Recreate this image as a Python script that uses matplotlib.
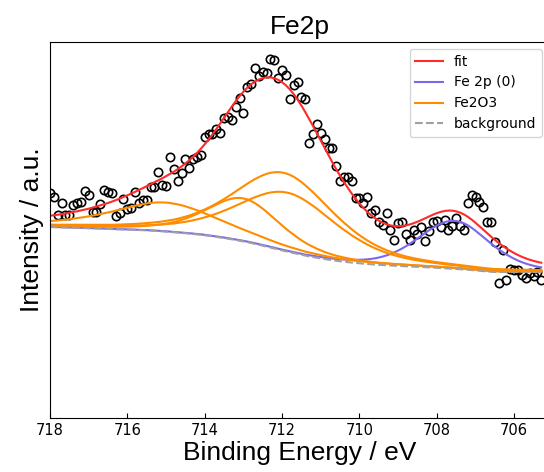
import numpy as np
import matplotlib
matplotlib.use("Agg")
import matplotlib.pyplot as plt

# measured spectrum, 0.1 eV steps from 718.0 down to 705.3 eV
energy = np.round(np.arange(718.0, 705.25, -0.1), 1)
counts = [225, 221, 203, 215, 203, 203, 213, 215, 216, 227, 223, 206, 206, 214, 228, 226, 225, 202, 205, 219, 209, 210, 226, 215, 218,
          218, 231, 231, 246, 233, 232, 261, 249, 237, 245, 259, 250, 259, 261, 263, 281, 284, 284, 289, 285, 300, 301, 298, 311, 320,
          305, 331, 334, 350, 342, 346, 345, 359, 358, 340, 348, 343, 319, 333, 336, 321, 319, 275, 284, 294, 285, 279, 270, 270, 252,
          237, 241, 241, 237, 220, 220, 215, 221, 205, 208, 196, 193, 205, 188, 178, 195, 196, 184, 178, 188, 184, 191, 177, 187, 196,
          197, 191, 198, 188, 192, 200, 192, 188, 215, 223, 221, 216, 211, 196, 196, 176, 135, 168, 138, 149, 148, 148, 143, 140, 145,
          142, 146, 138]
counts = np.array(counts, dtype=float)

# background end levels (high BE side, low BE side)
bg_high = 191
bg_low = 146

# fitted peaks: centre (eV), height, fwhm (eV), lorentz fraction
fe0_center, fe0_height, fe0_fwhm, fe0_eta = 707.55, 48, 2.2, 0.3
fe2o3_center = [715.0, 713.0, 711.95, 711.85]
fe2o3_height = [29, 43, 78, 59]
fe2o3_fwhm = [3.4, 2.3, 3.1, 3.1]
fe2o3_eta = [0.7, 0.5, 0.5, 0.5]


def pvoigt(x, c, h, w, eta):
    g = np.exp(-4 * np.log(2) * ((x - c) / w) ** 2)
    l = 1 / (1 + 4 * ((x - c) / w) ** 2)
    return h * (eta * l + (1 - eta) * g)


def shirley(x, y, high, low, n_iter=30):
    # x is descending, low BE at the end
    bg = np.full_like(y, low)
    for _ in range(n_iter):
        diff = y - bg
        # cumulative area from the low BE end
        area = np.concatenate([[0], np.cumsum(((diff[1:] + diff[:-1]) / 2)[::-1] * 0.1)])[::-1]
        bg = low + (high - low) * area / area[0]
    return bg


background = shirley(energy, counts, bg_high, bg_low)
fe0 = pvoigt(energy, fe0_center, fe0_height, fe0_fwhm, fe0_eta)
fe2o3 = [pvoigt(energy, c, h, w, e) for c, h, w, e in zip(fe2o3_center, fe2o3_height, fe2o3_fwhm, fe2o3_eta)]
fit = background + fe0 + np.sum(fe2o3, axis=0)

fig = plt.figure(figsize=(5.44, 4.72), dpi=100)
ax = fig.add_axes([50 / 544, 54 / 472, 499 / 544, 376 / 472])

ax.plot(energy, counts, "o", mfc="none", mec="k", ms=6, mew=1.2)
ax.plot(energy, fit, color="#ff2a2a", lw=1.5, label="fit")
ax.plot(energy, background + fe0, color="#7b68ee", lw=1.5, label="Fe 2p (0)")
for i, comp in enumerate(fe2o3):
    ax.plot(energy, background + comp, color="darkorange", lw=1.5,
            label="Fe2O3" if i == 0 else None)
ax.plot(energy, background, "--", color="#a0a0a0", lw=1.5, label="background")

ax.set_xlim(718, 705.1)
ax.set_ylim(0, 376)
ax.set_yticks([])
ax.tick_params(axis="x", direction="in", labelsize=10.5)
ax.set_xticks([718, 716, 714, 712, 710, 708, 706])

ax.set_title("Fe2p", fontsize=19, family="Liberation Sans")
ax.set_xlabel("Binding Energy / eV", fontsize=19, family="Liberation Sans", labelpad=2)
ax.set_ylabel("Intensity / a.u.", fontsize=19, family="Liberation Sans")
ax.legend(loc="upper right")

fig.savefig("out.png", dpi=100)
